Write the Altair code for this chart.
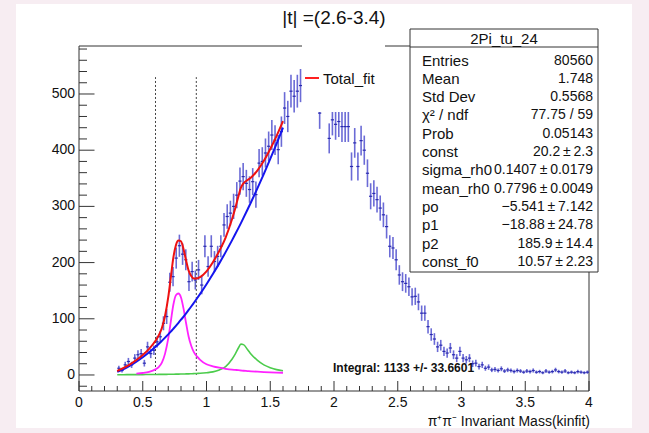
import altair as alt
import pandas as pd
import numpy as np

# ---------------- data ----------------
BIN_START = 0.3
BIN_WIDTH = 0.025
counts = [
    12, 8, 18, 24, 18, 30, 36, 38, 21, 50, 38, 44, 59, 68, 92, 104, 165, 175, 208, 230,
    215, 205, 166, 184, 169, 187, 160, 229, 193, 229, 202, 211, 229, 267, 282, 288, 300, 320, 345, 353,
    341, 330, 344, 321, 377, 380, 395, 407, 427, 418, 401, 433, 475, 460, 505, 496, 505, 515,
    512, 520, 515, 508, 502, 466, 505, 500,
    421, 454, 446, 451, 442, 442, 442, 371, 413, 371, 417, 400, 359, 318, 323, 312, 297, 285, 264, 229,
    226, 205, 178, 166, 163, 157, 139, 140, 130, 110, 110, 86, 72, 64, 50, 53, 42, 39, 48, 36,
    30, 42, 30, 27, 30, 20, 21, 15, 18, 12, 14, 9,
    10, 8, 11, 7, 9, 8, 6, 8, 7, 5, 7, 6, 8, 5, 6, 4, 7, 5, 6, 9, 6, 5, 7, 4, 5, 4, 6, 5, 4, 5,
]

fit_x = [0.30, 0.35, 0.40, 0.45, 0.50, 0.55, 0.60, 0.625, 0.65, 0.675, 0.70, 0.72, 0.74, 0.76, 0.78,
         0.80, 0.82, 0.84, 0.86, 0.88, 0.90, 0.925, 0.95, 1.00, 1.05, 1.10, 1.15, 1.20, 1.225, 1.25,
         1.27, 1.29, 1.32, 1.35, 1.40, 1.45, 1.50, 1.55, 1.60]
bkg_y = [5.5, 10.6, 16.7, 23.6, 31.5, 40.3, 50.1, 55.3, 60.7, 66.4, 72.3, 77.2, 82.3, 87.5, 92.8,
         98.3, 104.0, 109.8, 115.7, 121.8, 128.1, 136.1, 144.3, 161.5, 179.6, 198.6, 218.6, 239.5, 250.3, 261.3,
         270.3, 279.5, 293.5, 307.8, 332.4, 357.9, 384.4, 411.8, 440.2]
rho_y = [None, None, None, 2.5, 3.5, 5.5, 10, 14, 22, 38, 65, 95, 125, 142, 145,
         138, 118, 92, 68, 52, 41, 33, 27, 19, 15.5, 13, 11, 9.5, 9, 8.5,
         8, 7.5, 7, 6.5, 5.8, 5.2, 4.7, 4.3, 4.0]
f2_y = [0.5, 0.5, 0.6, 0.6, 0.7, 0.8, 0.9, 1.0, 1.0, 1.1, 1.2, 1.3, 1.4, 1.5, 1.6,
        1.7, 1.8, 1.9, 2.0, 2.2, 2.4, 2.7, 3.0, 4.0, 5.5, 9, 15, 28, 37, 48,
        55, 54, 46, 37, 26, 18, 13, 9.5, 7.5]
total_y = [7, 12.5, 19, 26.7, 35.7, 46.6, 61.0, 70.3, 83.7, 105.5, 138.5, 173.5, 208.7, 231.0, 239.4,
           238.0, 223.8, 203.7, 185.7, 176.0, 171.5, 171.8, 174.3, 184.5, 200.6, 220.6, 244.6, 277.0, 296.3, 317.8,
           333.3, 341.0, 346.5, 351.3, 364.2, 381.1, 402.1, 425.6, 451.7]

cut_lines = [0.6, 0.92]

x_major = [0, 0.5, 1, 1.5, 2, 2.5, 3, 3.5, 4]
x_labels = ["0", "0.5", "1", "1.5", "2", "2.5", "3", "3.5", "4"]
x_minor = [0.1, 0.2, 0.3, 0.4, 0.6, 0.7, 0.8, 0.9, 1.1, 1.2, 1.3, 1.4, 1.6, 1.7, 1.8, 1.9,
           2.1, 2.2, 2.3, 2.4, 2.6, 2.7, 2.8, 2.9, 3.1, 3.2, 3.3, 3.4, 3.6, 3.7, 3.8, 3.9]
y_major = [0, 100, 200, 300, 400, 500]
y_labels = ["0", "100", "200", "300", "400", "500"]
y_minor = [-20, 20, 40, 60, 80, 120, 140, 160, 180, 220, 240, 260, 280, 320, 340, 360, 380,
           420, 440, 460, 480, 520, 540, 560, 580]

title_text = "|t| =(2.6-3.4)"
x_title = "\u03c0\u207a\u03c0\u207b Invariant Mass(kinfit)"
legend_label = "Total_fit"
integral_text = "Integral: 1133 +/- 33.6601"
stats_title = "2Pi_tu_24"
PM = "\u2009\u00b1\u2009"
stats_names = ["Entries", "Mean", "Std Dev", "\u03c7\u00b2 / ndf", "Prob", "const", "sigma_rh0",
               "mean_rh0", "po", "p1", "p2", "const_f0"]
stats_values = ["80560", "1.748", "0.5568", "77.75 / 59", "0.05143", "20.2" + PM + "2.3",
                "0.1407" + PM + "0.0179", "0.7796" + PM + "0.0049", "\u22125.541" + PM + "7.142",
                "\u221218.88" + PM + "24.78", "185.9" + PM + "14.4", "10.57" + PM + "2.23"]

# ---------------- layout ----------------
W, H = 510, 345
FONT = "Liberation Sans"
xs = alt.Scale(domain=[0, 4], nice=False, zero=False)
ys = alt.Scale(domain=[-28.5, 585.4], nice=False, zero=False)

hist = pd.DataFrame({"c": counts})
hist["x"] = [BIN_START + BIN_WIDTH * (i + 0.5) for i in range(len(counts))]
hist["xl"] = hist["x"] - BIN_WIDTH / 2
hist["xr"] = hist["x"] + BIN_WIDTH / 2
err = 1.3 * np.sqrt(np.maximum(hist["c"], 1))
hist["lo"] = hist["c"] - err
hist["hi"] = hist["c"] + err

one = pd.DataFrame({"k": [0]})

def X(f):
    return alt.X(f, type="quantitative", scale=xs, axis=None)

def Y(f):
    return alt.Y(f, type="quantitative", scale=ys, axis=None)

canvas = alt.Chart(one).mark_rect(color="white").encode(
    x=alt.value(-63), x2=alt.value(553), y=alt.value(-42), y2=alt.value(382))

frame = alt.Chart(one).mark_rect(fill="white", stroke="#333333", strokeWidth=1).encode(
    x=alt.value(0), x2=alt.value(W), y=alt.value(0), y2=alt.value(H))

xmaj = alt.Chart(pd.DataFrame({"v": x_major})).mark_rule(color="#333333", strokeWidth=1).encode(
    x=X("v"), y=alt.value(H), y2=alt.value(H - 10))
xmin = alt.Chart(pd.DataFrame({"v": x_minor})).mark_rule(color="#333333", strokeWidth=1).encode(
    x=X("v"), y=alt.value(H), y2=alt.value(H - 5))
ymaj = alt.Chart(pd.DataFrame({"v": y_major})).mark_rule(color="#333333", strokeWidth=1).encode(
    y=Y("v"), x=alt.value(0), x2=alt.value(15.5))
ymin = alt.Chart(pd.DataFrame({"v": y_minor})).mark_rule(color="#333333", strokeWidth=1).encode(
    y=Y("v"), x=alt.value(0), x2=alt.value(8))

xlab = alt.Chart(pd.DataFrame({"v": x_major, "t": x_labels})).mark_text(
    font=FONT, fontSize=14, color="#111111", baseline="middle", align="center").encode(
    x=X("v"), y=alt.value(H + 12), text="t:N")
ylab = alt.Chart(pd.DataFrame({"v": y_major, "t": y_labels})).mark_text(
    font=FONT, fontSize=14, color="#111111", baseline="middle", align="right").encode(
    y=Y("v"), x=alt.value(-4), text="t:N")
xtitle = alt.Chart(one).mark_text(font=FONT, fontSize=14, color="#111111", align="right",
                                  baseline="middle", text=x_title).encode(
    x=alt.value(W + 1), y=alt.value(H + 30.5))

ebar = alt.Chart(hist).mark_rule(color="#3a3ac8", strokeWidth=1.6, opacity=0.75).encode(
    x=X("x"), y=Y("lo"), y2="hi")
hbar = alt.Chart(hist).mark_rule(color="#2a2ab0", strokeWidth=1.2).encode(
    x=X("xl"), x2="xr", y=Y("c"))

cuts = alt.Chart(pd.DataFrame({"v": cut_lines, "y0": [0, 0], "y1": [530, 530]})).mark_rule(
    color="#444444", strokeWidth=1, strokeDash=[2, 2]).encode(x=X("v"), y=Y("y0"), y2="y1")

def curve(vals, color, width):
    df = pd.DataFrame({"x": fit_x, "y": vals}).dropna()
    return alt.Chart(df).mark_line(color=color, strokeWidth=width, interpolate="monotone").encode(
        x=X("x"), y=Y("y"))

green = curve(f2_y, "#4ccc4c", 1.6)
mag = curve(rho_y, "#ff22ff", 1.8)
blue = curve(bkg_y, "#1515ee", 2)
red = curve(total_y, "#ee1111", 2)

leg_box = alt.Chart(one).mark_rect(color="white").encode(
    x=alt.value(223), x2=alt.value(306), y=alt.value(-8), y2=alt.value(66))
leg_line = alt.Chart(one).mark_rule(color="#ff2020", strokeWidth=2).encode(
    x=alt.value(226), x2=alt.value(240), y=alt.value(32))
leg_text = alt.Chart(one).mark_text(font=FONT, fontSize=15, color="#111111", align="left",
                                    baseline="middle", text=legend_label).encode(
    x=alt.value(244), y=alt.value(32.5))

st_box = alt.Chart(one).mark_rect(fill="white", stroke="#333333", strokeWidth=1).encode(
    x=alt.value(331), x2=alt.value(519), y=alt.value(-17), y2=alt.value(226))
st_div = alt.Chart(one).mark_rule(color="#333333", strokeWidth=1).encode(
    x=alt.value(331), x2=alt.value(519), y=alt.value(1))
st_title = alt.Chart(one).mark_text(font=FONT, fontSize=15, color="#111111", align="center",
                                    baseline="middle", text=stats_title).encode(
    x=alt.value(425), y=alt.value(-7.5))
rows = pd.DataFrame({"n": stats_names, "v": stats_values,
                     "py": [14.5 + 18.3 * i for i in range(len(stats_names))]})
st_names = alt.Chart(rows).mark_text(font=FONT, fontSize=15, color="#111111", align="left",
                                     baseline="middle").encode(
    x=alt.value(343), y=alt.Y("py:Q", scale=None), text="n:N")
st_vals = alt.Chart(rows).mark_text(font=FONT, fontSize=14, color="#111111", align="right",
                                    baseline="middle").encode(
    x=alt.value(514), y=alt.Y("py:Q", scale=None), text="v:N")

title = alt.Chart(one).mark_text(font=FONT, fontSize=19, color="#111111", align="center",
                                 baseline="middle", text=title_text).encode(
    x=alt.value(255), y=alt.value(-28))
integral = alt.Chart(one).mark_text(font=FONT, fontSize=12, fontWeight="bold", color="#111111",
                                    align="left", baseline="middle", text=integral_text).encode(
    x=alt.value(254), y=alt.value(322))

chart = alt.layer(
    canvas, frame, xmaj, xmin, ymaj, ymin, ebar, hbar, cuts, green, mag, blue, red,
    leg_box, leg_line, leg_text, st_box, st_div, st_title, st_names, st_vals,
    title, integral, xlab, ylab, xtitle,
).properties(
    width=W, height=H,
    autosize=alt.AutoSizeParams(type="none"),
    padding={"left": 79, "top": 46, "right": 60, "bottom": 42},
).configure(background="#f7edf2").configure_view(stroke=None)

chart.save("out.html", embed_options={"renderer": "svg", "actions": False})
